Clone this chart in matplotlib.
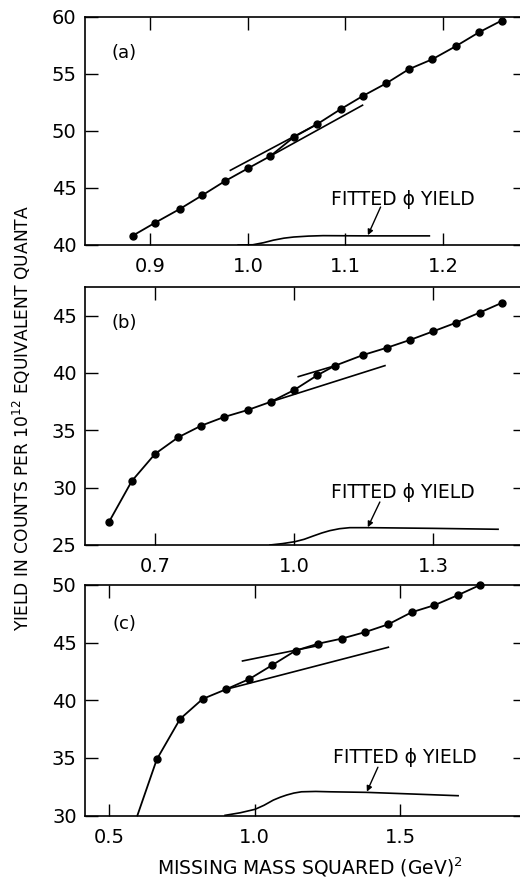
import matplotlib
matplotlib.use('Agg')
import matplotlib.pyplot as plt
from matplotlib.ticker import FormatStrFormatter

plt.rcParams['font.family'] = ['DejaVu Sans']

# ---------------- Panel (a) ----------------
a_x = [0.882, 0.905, 0.930, 0.953, 0.976, 1.000, 1.023, 1.047, 1.071, 1.095,
       1.118, 1.142, 1.165, 1.189, 1.213, 1.237, 1.260]
a_y = [40.82, 41.96, 43.15, 44.35, 45.58, 46.72, 47.80, 49.46, 50.60, 51.91,
       53.08, 54.19, 55.42, 56.29, 57.43, 58.66, 59.68]
a_low_x = [1.023, 1.1175]
a_low_y = [47.80, 52.26]
a_up_x = [0.982, 1.071]
a_up_y = [46.55, 50.60]
a_fit_x = [0.990, 1.005, 1.016, 1.026, 1.037, 1.047, 1.062, 1.077, 1.120, 1.186]
a_fit_y = [40.00, 40.02, 40.20, 40.42, 40.60, 40.70, 40.78, 40.82, 40.80, 40.80]

# ---------------- Panel (b) ----------------
b_x = [0.601, 0.650, 0.700, 0.750, 0.800, 0.849, 0.900, 0.950, 1.000, 1.050,
       1.088, 1.149, 1.201, 1.250, 1.300, 1.350, 1.400, 1.449]
b_y = [27.03, 30.58, 32.94, 34.39, 35.41, 36.16, 36.77, 37.49, 38.51, 39.80,
       40.63, 41.57, 42.21, 42.88, 43.63, 44.39, 45.26, 46.13]
b_low_x = [0.950, 1.196]
b_low_y = [37.49, 40.64]
b_up_x = [1.009, 1.088]
b_up_y = [39.68, 40.63]
b_fit_x = [0.948, 0.975, 1.002, 1.022, 1.041, 1.060, 1.077, 1.098, 1.120, 1.163, 1.300, 1.440]
b_fit_y = [25.00, 25.12, 25.29, 25.50, 25.78, 26.05, 26.25, 26.42, 26.51, 26.51, 26.45, 26.37]

# ---------------- Panel (c) ----------------
c_x = [0.663, 0.743, 0.821, 0.901, 0.982, 1.061, 1.141, 1.219, 1.300, 1.381,
       1.460, 1.540, 1.618, 1.698, 1.776]
c_y = [34.88, 38.38, 40.12, 40.95, 41.85, 43.06, 44.31, 44.91, 45.35, 45.92,
       46.59, 47.63, 48.24, 49.10, 50.00]
c_start_x = 0.596
c_start_y = 30.0
c_low_x = [0.901, 1.460]
c_low_y = [40.95, 44.60]
c_up_x = [0.958, 1.213]
c_up_y = [43.41, 44.71]
c_fit_x = [0.898, 0.950, 1.001, 1.032, 1.064, 1.088, 1.110, 1.135, 1.161, 1.210, 1.259, 1.385, 1.540, 1.700]
c_fit_y = [30.03, 30.25, 30.55, 30.90, 31.35, 31.60, 31.79, 31.96, 32.07, 32.10, 32.07, 32.02, 31.88, 31.73]

panels = [
    dict(tag='(a)', x=a_x, y=a_y, lines=[(a_low_x, a_low_y), (a_up_x, a_up_y)],
         fx=a_fit_x, fy=a_fit_y, xlim=(0.833, 1.284), ylim=(40, 60),
         xticks=[0.9, 1.0, 1.1, 1.2], yticks=[40, 45, 50, 55, 60],
         rect=[0.1635, 0.7216, 0.846, 0.2591], tagpos=(0.089, 0.842),
         text=(1.159, 43.95), tail=(1.136, 43.33), tip=(1.123, 40.86),
         start=None),
    dict(tag='(b)', x=b_x, y=b_y, lines=[(b_low_x, b_low_y), (b_up_x, b_up_y)],
         fx=b_fit_x, fy=b_fit_y, xlim=(0.549, 1.498), ylim=(25, 47.5),
         xticks=[0.7, 1.0, 1.3], yticks=[25, 30, 35, 40, 45],
         rect=[0.1635, 0.3807, 0.846, 0.2932], tagpos=(0.089, 0.860),
         text=(1.234, 29.54), tail=(1.185, 28.75), tip=(1.159, 26.55),
         start=None),
    dict(tag='(c)', x=c_x, y=c_y, lines=[(c_low_x, c_low_y), (c_up_x, c_up_y)],
         fx=c_fit_x, fy=c_fit_y, xlim=(0.416, 1.93), ylim=(30, 50),
         xticks=[0.5, 1.0, 1.5], yticks=[30, 35, 40, 45, 50],
         rect=[0.1635, 0.0731, 0.846, 0.2622], tagpos=(0.089, 0.831),
         text=(1.517, 35.08), tail=(1.424, 34.2), tip=(1.386, 32.08),
         start=(c_start_x, c_start_y)),
]

fig = plt.figure(figsize=(5.2, 8.8), dpi=100)

for p in panels:
    ax = fig.add_axes(p['rect'])
    lx = list(p['x'])
    ly = list(p['y'])
    if p['start'] is not None:
        lx = [p['start'][0]] + lx
        ly = [p['start'][1]] + ly
    ax.plot(lx, ly, color='black', lw=1.3, solid_capstyle='round', clip_on=False)
    ax.plot(p['x'], p['y'], 'o', color='black', ms=5, clip_on=False)
    for (tx, ty) in p['lines']:
        ax.plot(tx, ty, color='black', lw=1.2)
    ax.plot(p['fx'], p['fy'], color='black', lw=1.2)
    ax.set_xlim(*p['xlim'])
    ax.set_ylim(*p['ylim'])
    ax.set_xticks(p['xticks'])
    ax.set_yticks(p['yticks'])
    ax.xaxis.set_major_formatter(FormatStrFormatter('%.1f'))
    ax.tick_params(direction='in', length=9, width=1.0, top=True, right=True,
                   labelsize=14)
    ax.tick_params(axis='x', pad=9)
    ax.tick_params(axis='y', pad=6)
    for s in ax.spines.values():
        s.set_linewidth(1.2)
    ax.text(p['tagpos'][0], p['tagpos'][1], p['tag'], transform=ax.transAxes,
            ha='center', va='center', fontsize=13)
    ax.text(p['text'][0], p['text'][1], 'FITTED ϕ YIELD', ha='center',
            va='center', fontsize=13.5)
    ax.annotate('', xy=p['tip'], xytext=p['tail'],
                arrowprops=dict(arrowstyle='-|>', color='black', lw=1.0,
                                mutation_scale=8, shrinkA=0, shrinkB=0))

fig.text(0.596, 0.0065, 'MISSING MASS SQUARED (GeV)$^{2}$', ha='center',
         va='baseline', fontsize=13.5)
fig.text(0.042, 0.525, 'YIELD IN COUNTS PER 10$^{12}$ EQUIVALENT QUANTA',
         ha='center', va='center', rotation=90, fontsize=12.3)

fig.savefig('out.png', dpi=100)
